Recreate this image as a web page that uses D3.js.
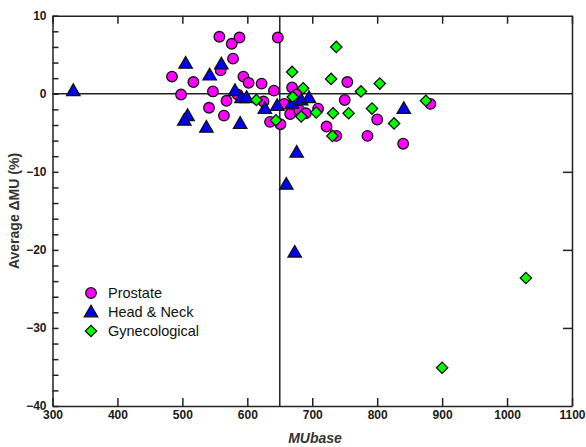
<!DOCTYPE html>
<html>
<head>
<meta charset="utf-8">
<script src="https://cdn.jsdelivr.net/npm/d3@7"></script>
<style>
  body { margin: 0; background: #fff; }
  svg { display: block; }
</style>
</head>
<body>
<div id="chart"></div>
<script>
// data: [MUbase, average ΔMU %]
let prostate = [
  [484, 2.2], [498, -0.1], [517, 1.5], [557, 7.3], [576, 6.4], [588, 7.2],
  [578, 4.5], [559, 3.0], [594, 2.2], [602, 1.4], [622, 1.3], [641, 0.4],
  [647, 7.2], [547, 0.3], [541, -1.8], [568, -0.9], [564, -2.8], [585, -0.1],
  [625, -1.0], [635, -3.6], [651, -3.9], [657, -1.3], [666, -2.6], [669, 0.8],
  [676, -0.1], [680, -2.1], [690, -2.5], [709, -1.9], [722, -4.2], [737, -5.4],
  [754, 1.5], [750, -0.8], [785, -5.4], [800, -3.3], [840, -6.4], [882, -1.3]
];
let headNeck = [
  [332, 0.4], [505, 3.9], [542, 2.4], [560, 3.8], [581, 0.4], [591, -0.5],
  [599, -0.5], [508, -2.8], [503, -3.4], [537, -4.3], [589, -3.8], [627, -1.9],
  [646, -1.5], [669, -1.2], [683, -0.8], [695, -0.5], [676, -7.5], [660, -11.6],
  [673, -20.3], [841, -1.9]
];
let gynecological = [
  [614, -0.8], [644, -3.4], [669, 2.8], [670, -0.4], [686, 0.7], [683, -2.9],
  [706, -2.4], [729, 1.9], [732, -2.5], [731, -5.4], [737, 6.0], [756, -2.5],
  [775, 0.3], [792, -1.9], [804, 1.3], [826, -3.8], [875, -0.9], [1029, -23.6],
  [900, -35.1]
];

let xTicks = [300, 400, 500, 600, 700, 800, 900, 1000, 1100];
let yTicks = [10, 0, -10, -20, -30, -40];
let yMinorTicks = d3.range(-40, 10.1, 2);

let series = [
  {name: "Prostate", data: prostate, shape: "circle", fill: "#ff00ff"},
  {name: "Head & Neck", data: headNeck, shape: "triangle", fill: "#0000ff"},
  {name: "Gynecological", data: gynecological, shape: "diamond", fill: "#00ff00"}
];

let svgWidth = 586, svgHeight = 447;
let margin = {left: 52.5, right: 14, top: 15.7, bottom: 41};

let svg = d3.select("#chart")
  .append("svg")
  .attr("width", svgWidth)
  .attr("height", svgHeight);

let x = d3.scaleLinear().domain([300, 1100]).range([margin.left, svgWidth - margin.right]);
let y = d3.scaleLinear().domain([-40, 10]).range([svgHeight - margin.bottom, margin.top]);

let axisColor = "#222";
let tickFont = "Liberation Sans, Arial, sans-serif";

// axes with inward ticks
svg.append("g")
  .attr("class", "labelled")
  .attr("transform", `translate(0,${y(-40)})`)
  .call(d3.axisBottom(x).tickValues(xTicks).tickSizeInner(-8).tickSizeOuter(0).tickPadding(6))
  .call(g => g.selectAll("text").attr("dy", "0.55em"));

svg.append("g")
  .attr("transform", `translate(0,${y(10)})`)
  .call(d3.axisTop(x).tickValues(xTicks).tickSizeInner(-8).tickSizeOuter(0).tickFormat(""));

svg.append("g")
  .attr("transform", `translate(${x(300)},0)`)
  .call(d3.axisLeft(y).tickValues(yMinorTicks).tickSizeInner(-6).tickSizeOuter(0).tickFormat(""));

svg.append("g")
  .attr("class", "labelled")
  .attr("transform", `translate(${x(300)},0)`)
  .call(d3.axisLeft(y).tickValues(yTicks).tickSizeInner(0).tickSizeOuter(0).tickPadding(6))
  .call(g => g.select(".domain").remove());

svg.append("g")
  .attr("transform", `translate(${x(1100)},0)`)
  .call(d3.axisRight(y).tickValues([-10, -20, -30]).tickSizeInner(-9).tickSizeOuter(0).tickFormat(""));

svg.selectAll(".domain, .tick line")
  .attr("stroke", axisColor)
  .attr("stroke-width", 1.5);

svg.selectAll(".labelled .tick text")
  .attr("font-family", tickFont)
  .attr("font-weight", "700")
  .attr("font-size", "12px")
  .attr("fill", "#1a1a1a")
  .text(function(d) { return d < 0 ? "\u2212" + Math.abs(d) : d; });

// reference lines
svg.append("line")
  .attr("x1", x(300)).attr("x2", x(1100))
  .attr("y1", y(0)).attr("y2", y(0))
  .attr("stroke", axisColor).attr("stroke-width", 1.5);

svg.append("line")
  .attr("x1", x(650)).attr("x2", x(650))
  .attr("y1", y(10)).attr("y2", y(-40))
  .attr("stroke", axisColor).attr("stroke-width", 1.5);

function markerPath(shape) {
  if (shape == "triangle") return d3.symbol().type(d3.symbolTriangle).size(78)();
  if (shape == "diamond") return d3.symbol().type(d3.symbolSquare).size(64)();
  return null;
}

function drawMarker(sel, s) {
  if (s.shape == "circle") {
    sel.append("circle")
      .attr("r", 5.3)
      .attr("fill", s.fill)
      .attr("stroke", "#111")
      .attr("stroke-width", 1.3);
  } else {
    sel.append("path")
      .attr("d", markerPath(s.shape))
      .attr("transform", s.shape == "diamond" ? "rotate(45)" : "translate(0,1)")
      .attr("fill", s.fill)
      .attr("stroke", "#111")
      .attr("stroke-width", 1.3)
      .attr("stroke-linejoin", "miter");
  }
}

series.forEach(function(s) {
  let g = svg.append("g").attr("class", "series");
  g.selectAll("g")
    .data(s.data)
    .enter().append("g")
      .attr("transform", function(d) { return `translate(${x(d[0])},${y(d[1])})`; })
      .each(function() { drawMarker(d3.select(this), s); });
});

// legend
let legend = svg.append("g").attr("transform", "translate(91,293)");
series.forEach(function(s, i) {
  let row = legend.append("g").attr("transform", `translate(0,${i * 19})`);
  drawMarker(row, s);
  row.append("text")
    .attr("x", 17)
    .attr("y", 5)
    .attr("font-family", tickFont)
    .attr("font-size", "14.5px")
    .attr("fill", "#111")
    .text(s.name);
});

// axis titles
svg.append("text")
  .attr("x", 315)
  .attr("y", 443)
  .attr("text-anchor", "middle")
  .attr("font-family", tickFont)
  .attr("font-weight", "700")
  .attr("font-style", "italic")
  .attr("font-size", "14px")
  .attr("fill", "#333")
  .text("MUbase");

svg.append("text")
  .attr("transform", "translate(19,211) rotate(-90)")
  .attr("text-anchor", "middle")
  .attr("font-family", tickFont)
  .attr("font-weight", "700")
  .attr("font-size", "14px")
  .attr("fill", "#333")
  .text("Average \u0394MU (%)");
</script>
</body>
</html>
